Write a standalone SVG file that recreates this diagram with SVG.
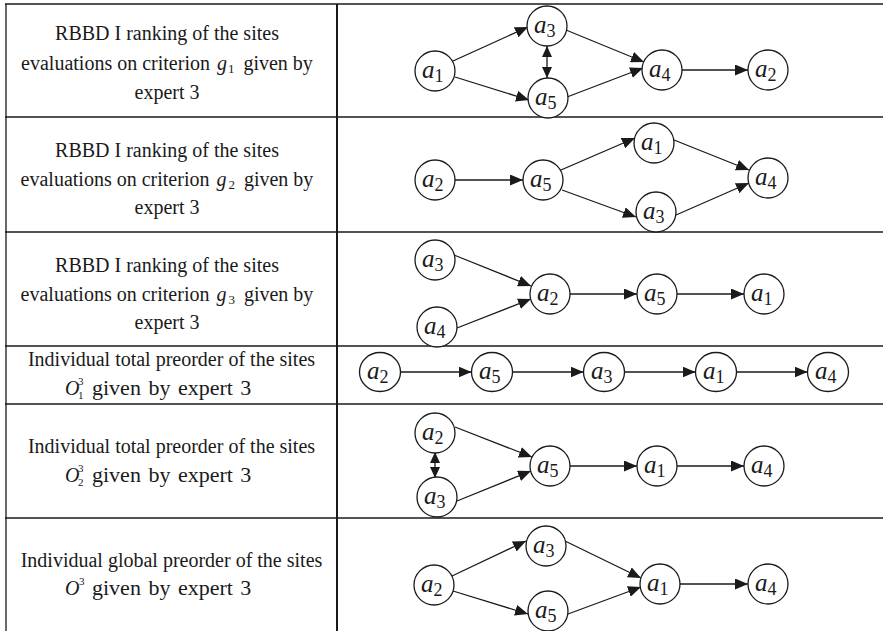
<svg xmlns="http://www.w3.org/2000/svg" width="883" height="631" viewBox="0 0 883 631">
  <defs>
    <marker id="arr" markerUnits="userSpaceOnUse" markerWidth="13" markerHeight="11" refX="13" refY="5.5" orient="auto">
      <path d="M0,0 L13,5.5 L0,11 Z" fill="#1a1a1a"/>
    </marker>
    <!-- compact heads for the short two-way links -->
    <marker id="tipEnd" markerUnits="userSpaceOnUse" markerWidth="11" markerHeight="10" refX="11" refY="5" orient="auto">
      <path d="M0,0 L11,5 L0,10 Z" fill="#1a1a1a"/>
    </marker>
    <marker id="tipStart" markerUnits="userSpaceOnUse" markerWidth="11" markerHeight="10" refX="0" refY="5" orient="auto">
      <path d="M11,0 L0,5 L11,10 Z" fill="#1a1a1a"/>
    </marker>
  </defs>
  <style>
    .grid line { stroke: #1a1a1a; stroke-width: 1.3; }
    .grid .div { stroke-width: 2; }
    .cap { font-family: "Liberation Serif", "Times New Roman", serif; font-size: 20px; fill: #1a1a1a; }
    .mid { text-anchor: middle; }
    .it { font-style: italic; }
    .small { font-size: 13px; }
    .tiny { font-size: 11px; }
    .tail { font-size: 22px; word-spacing: 2px; }
    .node circle, .node ellipse { fill: #fff; stroke: #1a1a1a; stroke-width: 1.3; }
    .node text { font-family: "Liberation Serif", "Times New Roman", serif; font-size: 25px; font-style: italic; fill: #1a1a1a; }
    .node .sub { font-size: 18px; font-style: normal; }
    .edges line { stroke: #1a1a1a; stroke-width: 1.3; marker-end: url(#arr); }
    .edges line.both { marker-start: url(#tipStart); marker-end: url(#tipEnd); }
  </style>
  <rect width="883" height="631" fill="#fff"/>

  <!-- table rules -->
  <g class="grid">
    <line x1="5" y1="4" x2="883" y2="4"/>
    <line x1="5" y1="117" x2="883" y2="117"/>
    <line x1="5" y1="232" x2="883" y2="232"/>
    <line x1="5" y1="346" x2="883" y2="346"/>
    <line x1="5" y1="404" x2="883" y2="404"/>
    <line x1="5" y1="518" x2="883" y2="518"/>
    <line x1="6" y1="4" x2="6" y2="631"/>
    <line class="div" x1="337" y1="4" x2="337" y2="631"/>
  </g>

  <!-- row captions -->
  <g id="caption-1" class="cap">
    <text class="mid" x="167" y="40">RBBD I ranking of the sites</text>
    <text class="mid" x="167" y="70">evaluations on criterion<tspan class="it" dx="7">g</tspan><tspan class="small" dx="1" dy="3">1</tspan><tspan dx="9" dy="-3">given by</tspan></text>
    <text class="mid" x="167" y="99">expert 3</text>
  </g>
  <g id="caption-2" class="cap">
    <text class="mid" x="167" y="157">RBBD I ranking of the sites</text>
    <text class="mid" x="167" y="186">evaluations on criterion<tspan class="it" dx="7">g</tspan><tspan class="small" dx="2" dy="3">2</tspan><tspan dx="9" dy="-3">given by</tspan></text>
    <text class="mid" x="167" y="214">expert 3</text>
  </g>
  <g id="caption-3" class="cap">
    <text class="mid" x="167" y="272">RBBD I ranking of the sites</text>
    <text class="mid" x="167" y="301">evaluations on criterion<tspan class="it" dx="7">g</tspan><tspan class="small" dx="2" dy="3">3</tspan><tspan dx="9" dy="-3">given by</tspan></text>
    <text class="mid" x="167" y="329">expert 3</text>
  </g>
  <g id="caption-4" class="cap">
    <text class="mid" x="171.5" y="366">Individual total preorder of the sites</text>
    <text class="it" x="65" y="395">O</text>
    <text class="tiny" x="78" y="385">3</text>
    <text class="tiny" x="78" y="399">1</text>
    <text class="tail" x="92" y="395">given by expert 3</text>
  </g>
  <g id="caption-5" class="cap">
    <text class="mid" x="171.5" y="453">Individual total preorder of the sites</text>
    <text class="it" x="65" y="482">O</text>
    <text class="tiny" x="78" y="472">3</text>
    <text class="tiny" x="78" y="486">2</text>
    <text class="tail" x="92" y="482">given by expert 3</text>
  </g>
  <g id="caption-6" class="cap">
    <text class="mid" x="171.5" y="567">Individual global preorder of the sites</text>
    <text class="it" x="65" y="595">O</text>
    <text class="tiny" x="79" y="585">3</text>
    <text class="tail" x="92" y="595">given by expert 3</text>
  </g>

  <!-- connectors -->
  <g id="connectors" class="edges">
    <!-- row 1 -->
    <line x1="453" y1="61" x2="528" y2="27"/>
    <line x1="455" y1="77" x2="529" y2="100"/>
    <line x1="566" y1="30" x2="644" y2="62"/>
    <line x1="567" y1="97" x2="643" y2="68"/>
    <line x1="682" y1="70" x2="748" y2="70"/>
    <line class="both" x1="547" y1="46" x2="547" y2="78"/>
    <!-- row 2 -->
    <line x1="455" y1="180" x2="523" y2="180"/>
    <line x1="561" y1="170" x2="635" y2="138"/>
    <line x1="562" y1="190" x2="636" y2="217"/>
    <line x1="674" y1="140" x2="749" y2="170"/>
    <line x1="676" y1="215" x2="749" y2="183"/>
    <!-- row 3 -->
    <line x1="454" y1="255" x2="531" y2="286"/>
    <line x1="457" y1="328" x2="531" y2="299"/>
    <line x1="570" y1="294" x2="637" y2="294"/>
    <line x1="677" y1="294" x2="744" y2="294"/>
    <!-- row 4 -->
    <line x1="400.5" y1="372" x2="471.5" y2="372"/>
    <line x1="512.5" y1="372" x2="583.5" y2="372"/>
    <line x1="624.5" y1="372" x2="695.5" y2="372"/>
    <line x1="736.5" y1="372" x2="807.5" y2="372"/>
    <!-- row 5 -->
    <line class="both" x1="435" y1="452" x2="435" y2="478"/>
    <line x1="455" y1="427" x2="532" y2="457"/>
    <line x1="457" y1="501" x2="531" y2="471"/>
    <line x1="570" y1="466" x2="637" y2="466"/>
    <line x1="677" y1="466" x2="744" y2="466"/>
    <!-- row 6 -->
    <line x1="452" y1="576" x2="526" y2="541"/>
    <line x1="453" y1="591" x2="528" y2="614"/>
    <line x1="565" y1="541" x2="641" y2="578"/>
    <line x1="568" y1="614" x2="641" y2="587"/>
    <line x1="680" y1="584" x2="748" y2="584"/>
  </g>

  <!-- row 1 nodes -->
  <g id="r1-a1" class="node" transform="translate(435,71)"><circle r="20"/><text x="-13" y="7">a<tspan class="sub" dy="4">1</tspan></text></g>
  <g id="r1-a3" class="node" transform="translate(547,26)"><circle r="20"/><text x="-13" y="7">a<tspan class="sub" dy="4">3</tspan></text></g>
  <g id="r1-a5" class="node" transform="translate(548,98)"><circle r="20"/><text x="-13" y="7">a<tspan class="sub" dy="4">5</tspan></text></g>
  <g id="r1-a4" class="node" transform="translate(662,70)"><circle r="20"/><text x="-13" y="7">a<tspan class="sub" dy="4">4</tspan></text></g>
  <g id="r1-a2" class="node" transform="translate(768,70)"><circle r="20"/><text x="-13" y="7">a<tspan class="sub" dy="4">2</tspan></text></g>

  <!-- row 2 nodes -->
  <g id="r2-a2" class="node" transform="translate(435,180)"><circle r="20"/><text x="-13" y="7">a<tspan class="sub" dy="4">2</tspan></text></g>
  <g id="r2-a5" class="node" transform="translate(543,180)"><circle r="20"/><text x="-13" y="7">a<tspan class="sub" dy="4">5</tspan></text></g>
  <g id="r2-a1" class="node" transform="translate(654,143)"><circle r="20"/><text x="-13" y="7">a<tspan class="sub" dy="4">1</tspan></text></g>
  <g id="r2-a3" class="node" transform="translate(656,212)"><circle r="20"/><text x="-13" y="7">a<tspan class="sub" dy="4">3</tspan></text></g>
  <g id="r2-a4" class="node" transform="translate(768,178)"><circle r="20"/><text x="-13" y="7">a<tspan class="sub" dy="4">4</tspan></text></g>

  <!-- row 3 nodes -->
  <g id="r3-a3" class="node" transform="translate(435,260)"><circle r="20"/><text x="-13" y="7">a<tspan class="sub" dy="4">3</tspan></text></g>
  <g id="r3-a4" class="node" transform="translate(437,327)"><circle r="20"/><text x="-13" y="7">a<tspan class="sub" dy="4">4</tspan></text></g>
  <g id="r3-a2" class="node" transform="translate(550,294)"><circle r="20"/><text x="-13" y="7">a<tspan class="sub" dy="4">2</tspan></text></g>
  <g id="r3-a5" class="node" transform="translate(657,294)"><circle r="20"/><text x="-13" y="7">a<tspan class="sub" dy="4">5</tspan></text></g>
  <g id="r3-a1" class="node" transform="translate(764,294)"><circle r="20"/><text x="-13" y="7">a<tspan class="sub" dy="4">1</tspan></text></g>

  <!-- row 4 nodes -->
  <g id="r4-a2" class="node" transform="translate(380,372)"><ellipse rx="20.5" ry="19.5"/><text x="-13" y="7">a<tspan class="sub" dy="4">2</tspan></text></g>
  <g id="r4-a5" class="node" transform="translate(492,372)"><ellipse rx="20.5" ry="19.5"/><text x="-13" y="7">a<tspan class="sub" dy="4">5</tspan></text></g>
  <g id="r4-a3" class="node" transform="translate(604,372)"><ellipse rx="20.5" ry="19.5"/><text x="-13" y="7">a<tspan class="sub" dy="4">3</tspan></text></g>
  <g id="r4-a1" class="node" transform="translate(716,372)"><ellipse rx="20.5" ry="19.5"/><text x="-13" y="7">a<tspan class="sub" dy="4">1</tspan></text></g>
  <g id="r4-a4" class="node" transform="translate(828,372)"><ellipse rx="20.5" ry="19.5"/><text x="-13" y="7">a<tspan class="sub" dy="4">4</tspan></text></g>

  <!-- row 5 nodes -->
  <g id="r5-a2" class="node" transform="translate(435,433)"><circle r="20"/><text x="-13" y="7">a<tspan class="sub" dy="4">2</tspan></text></g>
  <g id="r5-a3" class="node" transform="translate(437,497)"><circle r="20"/><text x="-13" y="7">a<tspan class="sub" dy="4">3</tspan></text></g>
  <g id="r5-a5" class="node" transform="translate(550,466)"><circle r="20"/><text x="-13" y="7">a<tspan class="sub" dy="4">5</tspan></text></g>
  <g id="r5-a1" class="node" transform="translate(657,466)"><circle r="20"/><text x="-13" y="7">a<tspan class="sub" dy="4">1</tspan></text></g>
  <g id="r5-a4" class="node" transform="translate(764,466)"><circle r="20"/><text x="-13" y="7">a<tspan class="sub" dy="4">4</tspan></text></g>

  <!-- row 6 nodes -->
  <g id="r6-a2" class="node" transform="translate(434,585)"><circle r="20"/><text x="-13" y="7">a<tspan class="sub" dy="4">2</tspan></text></g>
  <g id="r6-a3" class="node" transform="translate(546,546)"><circle r="20"/><text x="-13" y="7">a<tspan class="sub" dy="4">3</tspan></text></g>
  <g id="r6-a5" class="node" transform="translate(548,611)"><circle r="20"/><text x="-13" y="7">a<tspan class="sub" dy="4">5</tspan></text></g>
  <g id="r6-a1" class="node" transform="translate(660,584)"><circle r="20"/><text x="-13" y="7">a<tspan class="sub" dy="4">1</tspan></text></g>
  <g id="r6-a4" class="node" transform="translate(768,584)"><circle r="20"/><text x="-13" y="7">a<tspan class="sub" dy="4">4</tspan></text></g>
</svg>
